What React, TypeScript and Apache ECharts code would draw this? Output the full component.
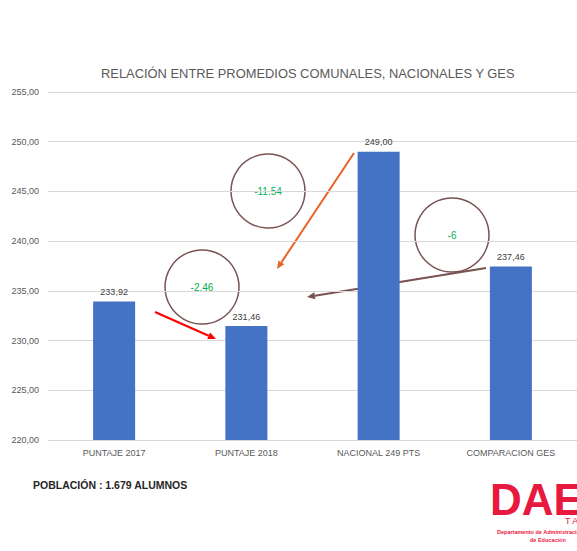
import React, { useEffect, useRef } from "react";
import * as echarts from "echarts";

const categories = ["PUNTAJE 2017", "PUNTAJE 2018", "NACIONAL 249 PTS", "COMPARACION GES"];
const values = [233.92, 231.46, 249.0, 237.46];
const differences = ["-2.46", "-11.54", "-6"];
const yMin = 220;
const yMax = 255;
const yStep = 5;

const fmt = (v: number) => v.toFixed(2).replace(".", ",");

function arrow(x1: number, y1: number, x2: number, y2: number, color: string) {
  const ang = Math.atan2(y2 - y1, x2 - x1);
  const len = 8;
  const w = 3.5;
  const bx = x2 - len * Math.cos(ang);
  const by = y2 - len * Math.sin(ang);
  const px = -Math.sin(ang) * w;
  const py = Math.cos(ang) * w;
  return [
    {
      type: "line",
      shape: { x1, y1, x2: bx, y2: by },
      style: { stroke: color, lineWidth: 2 },
      silent: true,
    },
    {
      type: "polygon",
      shape: { points: [[x2, y2], [bx + px, by + py], [bx - px, by - py]] },
      style: { fill: color },
      silent: true,
    },
  ];
}

function bubble(cx: number, cy: number, text: string) {
  return [
    {
      type: "circle",
      shape: { cx, cy, r: 37 },
      style: { fill: "none", stroke: "#7a5252", lineWidth: 1.5 },
      silent: true,
    },
    {
      type: "text",
      x: cx,
      y: cy,
      style: {
        text,
        fill: "#00b050",
        font: "10px 'Liberation Sans', Arial, sans-serif",
        align: "center",
        verticalAlign: "middle",
      },
      silent: true,
    },
  ];
}

export default function App() {
  const ref = useRef<HTMLDivElement>(null);
  useEffect(() => {
    document.body.style.margin = "0";
    if (!ref.current) return;
    const chart = echarts.init(ref.current, undefined, { renderer: "svg" });
    const font = "'Liberation Sans', Arial, sans-serif";
    chart.setOption({
      animation: false,
      backgroundColor: "#ffffff",
      title: {
        text: "RELACIÓN ENTRE PROMEDIOS COMUNALES, NACIONALES Y GES",
        left: 96,
        top: 62,
        textStyle: { fontFamily: font, fontSize: 12.9, fontWeight: "normal", color: "#595959" },
      },
      grid: { left: 48, right: -4, top: 92, bottom: 111, containLabel: false },
      xAxis: {
        type: "category",
        data: categories,
        axisLine: { lineStyle: { color: "#d9d9d9" } },
        axisTick: { show: false },
        axisLabel: { fontFamily: font, fontSize: 9, color: "#595959", margin: 8 },
      },
      yAxis: {
        type: "value",
        min: yMin,
        max: yMax,
        interval: yStep,
        axisLine: { show: false },
        axisTick: { show: false },
        splitLine: { lineStyle: { color: "#d9d9d9", width: 1 } },
        axisLabel: {
          fontFamily: font,
          fontSize: 9,
          color: "#595959",
          margin: 9,
          formatter: (v: number) => fmt(v),
        },
      },
      series: [
        {
          type: "bar",
          data: values,
          barWidth: 42,
          itemStyle: { color: "#4472c4" },
          label: {
            show: true,
            position: "top",
            distance: 5,
            fontFamily: font,
            fontSize: 9,
            color: "#404040",
            formatter: (p: any) => fmt(p.value),
          },
        },
      ],
      graphic: [
        ...bubble(202, 287, differences[0]),
        ...bubble(268, 191, differences[1]),
        ...bubble(452, 235, differences[2]),
        ...arrow(155, 312, 216, 339, "#ff0000"),
        ...arrow(354, 153, 277, 269, "#e8632a"),
        ...arrow(486, 268, 307, 297, "#7a5252"),
        {
          type: "text",
          left: 33,
          top: 479,
          style: {
            text: "POBLACIÓN : 1.679 ALUMNOS",
            fill: "#262626",
            font: `bold 10.5px ${font}`,
          },
        },
        {
          type: "text",
          x: 490,
          y: 499,
          style: {
            text: "DAE",
            fill: "#e8193f",
            font: `bold 44px ${font}`,
            lineHeight: 32,
            verticalAlign: "middle",
          },
        },
        {
          type: "text",
          x: 565,
          y: 521,
          style: { text: "T A", fill: "#e8193f", font: `9px ${font}`, verticalAlign: "middle" },
        },
        {
          type: "text",
          x: 497,
          y: 532,
          style: {
            text: "Departamento de Administración",
            fill: "#e8193f",
            font: `bold 5.5px ${font}`,
            verticalAlign: "middle",
          },
        },
        {
          type: "text",
          x: 530,
          y: 540,
          style: { text: "de Educación", fill: "#e8193f", font: `bold 5.5px ${font}`, verticalAlign: "middle" },
        },
      ],
    });
    return () => chart.dispose();
  }, []);
  return <div ref={ref} style={{ width: 577, height: 551 }} />;
}
